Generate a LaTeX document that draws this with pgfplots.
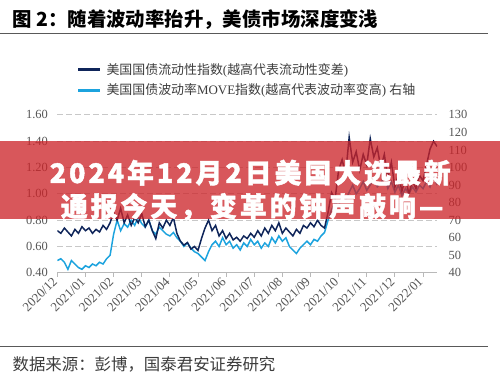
\documentclass[border=0pt]{standalone}
\usepackage{pgfplots}
\pgfplotsset{compat=1.18}
\usepackage{pgfplotstable}
\usepackage{fontspec}
\setmainfont{Liberation Serif}
\newfontfamily\cjk{Noto Sans CJK SC}
\newfontfamily\cjkbanner[LetterSpace=11, FakeBold=1.6]{Noto Sans CJK SC}
\definecolor{navy}{RGB}{15,37,90}
\definecolor{lblue}{RGB}{28,163,222}
\definecolor{gridgray}{RGB}{200,200,200}
\definecolor{axisgray}{RGB}{185,185,185}
\definecolor{labelgray}{RGB}{85,85,85}
\definecolor{textgray}{RGB}{60,60,60}
\definecolor{bannerred}{RGB}{205,35,40}

\pgfplotstableread{
t L M
0.000 0.72 47
0.125 0.70 48
0.250 0.74 46
0.375 0.71 42
0.500 0.68 47
0.625 0.73 45
0.750 0.70 43
0.875 0.75 42
1.000 0.72 44
1.125 0.74 43
1.250 0.70 45
1.375 0.73 44
1.500 0.71 46
1.625 0.76 45
1.750 0.73 48
1.875 0.78 50
2.000 0.86 62
2.125 0.80 70
2.250 0.89 64
2.375 0.78 68
2.500 0.84 66
2.625 0.76 70
2.750 0.82 67
2.875 0.78 72
3.000 0.85 68
3.125 0.75 66
3.250 0.80 70
3.375 0.72 64
3.500 0.66 62
3.625 0.78 66
3.750 0.74 64
3.875 0.80 62
4.000 0.76 61
4.125 0.82 63
4.250 0.70 60
4.375 0.64 58
4.500 0.61 55
4.625 0.63 57
4.750 0.58 54
4.875 0.60 52
5.000 0.57 51
5.125 0.66 49
5.250 0.74 47
5.375 0.80 52
5.500 0.72 56
5.625 0.76 58
5.750 0.68 55
5.875 0.72 60
6.000 0.66 56
6.125 0.70 58
6.250 0.65 54
6.375 0.67 56
6.500 0.64 53
6.625 0.68 57
6.750 0.66 55
6.875 0.70 59
7.000 0.67 56
7.125 0.72 58
7.250 0.68 54
7.375 0.74 57
7.500 0.70 55
7.625 0.76 60
7.750 0.72 57
7.875 0.78 61
8.000 0.70 58
8.125 0.74 60
8.250 0.71 55
8.375 0.68 53
8.500 0.73 51
8.625 0.70 54
8.750 0.76 56
8.875 0.74 58
9.000 0.78 56
9.125 0.75 59
9.250 0.80 58
9.375 0.76 61
9.500 0.74 63
9.625 0.86 70
9.750 1.01 76
9.875 0.96 80
10.000 1.18 78
10.125 1.26 84
10.250 1.15 81
10.375 1.43 86
10.500 1.24 90
10.625 1.32 85
10.750 1.18 88
10.875 1.30 92
11.000 1.22 87
11.125 1.42 90
11.250 1.28 94
11.375 1.35 89
11.500 1.20 91
11.625 1.30 95
11.750 1.12 88
11.875 1.24 92
12.000 1.05 86
12.125 1.15 90
12.250 1.02 84
12.375 1.12 88
12.500 1.00 85
12.625 1.10 89
12.750 1.04 86
12.875 1.14 90
13.000 1.10 88
13.125 1.22 92
13.250 1.34 89
13.375 1.40 95
13.500 1.36 90
}\data

\begin{document}
\begin{tikzpicture}
\begin{scope}[x=1bp,y=1bp]
\fill[white] (0,0) rectangle (500,380);
\path[use as bounding box] (0,0) rectangle (500,380);
\end{scope}

% right axis: MOVE
\begin{axis}[
  at={(57bp,107bp)}, anchor=south west, scale only axis,
  width=380bp, height=158bp,
  xmin=0, xmax=13.5, ymin=40, ymax=130,
  axis x line=none, axis y line*=right,
  y axis line style={draw=none},
  ytick={40,50,...,130}, major tick length=0pt,
  /pgf/number format/assume math mode=true,
  yticklabel style={font=\fontsize{12.5}{14}\selectfont, text=labelgray, xshift=8bp},
  extra y ticks={55,70,85,100,115,130}, extra y tick labels={},
  extra y tick style={ymajorgrids=true, major grid style={gridgray, line width=0.9bp, dash pattern=on 6bp off 3bp}},
]
\addplot[lblue, line width=1.5bp] table[x=t,y=M]{\data};
\end{axis}

% left axis: liquidity
\begin{axis}[
  at={(57bp,107bp)}, anchor=south west, scale only axis,
  width=380bp, height=158bp,
  xmin=0, xmax=13.5, ymin=0.4, ymax=1.6,
  axis x line*=bottom, axis y line*=left,
  y axis line style={draw=none},
  x axis line style={draw=axisgray, line width=0.8bp},
  xtick={0,...,13},
  xticklabels={2020/12,2021/01,2021/02,2021/03,2021/04,2021/05,2021/06,2021/07,2021/08,2021/09,2021/10,2021/11,2021/12,2022/01},
  xtick style={draw=axisgray, line width=0.8bp},
  xtick align=outside,
  x tick style={/pgfplots/major tick length=4bp},
  ytick={0.4,0.6,0.8,1.0,1.2,1.4,1.6},
  ytick style={draw=none},
  /pgf/number format/assume math mode=true,
  yticklabel style={/pgf/number format/.cd, fixed, fixed zerofill, precision=2, /tikz/.cd, font=\fontsize{12.5}{14}\selectfont, text=labelgray, xshift=-6bp},
  xticklabel style={rotate=45, anchor=east, font=\fontsize{13}{15}\selectfont, text=labelgray},
]
\addplot[navy, line width=1.5bp] table[x=t,y=L]{\data};
\end{axis}

\begin{scope}[x=1bp,y=1bp]
% title and rules
\node[anchor=west, inner sep=0pt, text=black] at (12,360) {\fontsize{19.5}{22}\selectfont\cjk\bfseries 图 2：随着波动率抬升，美债市场深度变浅};
\draw[black!65, line width=0.8bp] (0,347) -- (488,347);
\draw[black!65, line width=0.8bp] (0,33) -- (488,33);
\node[anchor=west, inner sep=0pt, text=textgray] at (12,15) {\fontsize{16.5}{19}\selectfont\cjk 数据来源：彭博，国泰君安证券研究};
% legend
\draw[navy, line width=3bp] (78,310) -- (100,310);
\node[anchor=west, inner sep=0pt, text=textgray, font=\fontsize{13}{15}\selectfont] at (106,310) {{\cjk 美国国债流动性指数}({\cjk 越高代表流动性变差})};
\draw[lblue, line width=3bp] (78,289.5) -- (100,289.5);
\node[anchor=west, inner sep=0pt, text=textgray, font=\fontsize{13}{15}\selectfont] at (106,289.5) {{\cjk 美国国债波动率}MOVE{\cjk 指数}({\cjk 越高代表波动率变高}) {\cjk 右轴}};
% banner
\fill[bannerred, opacity=0.76] (0,161) rectangle (500,239);
\node[text=white, inner sep=0pt] at (250,207) {\fontsize{27}{30}\selectfont\cjkbanner\bfseries 2024年12月2日美国大选最新};
\node[text=white, inner sep=0pt] at (252,173) {\fontsize{27}{30}\selectfont\cjkbanner\bfseries 通报今天，变革的钟声敲响—};
\end{scope}
\end{tikzpicture}
\end{document}
